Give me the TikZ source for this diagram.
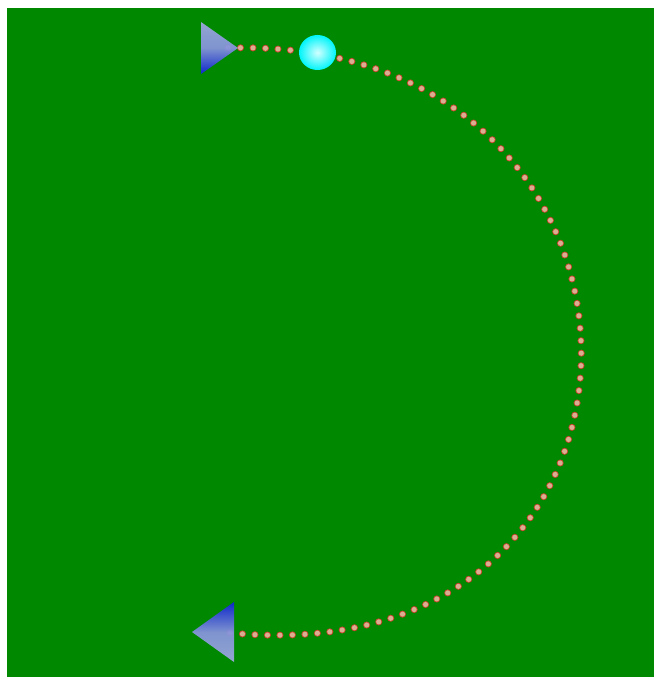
\documentclass[tikz,border=0pt]{standalone}
\usetikzlibrary{shapes.geometric}
\definecolor{bggreen}{RGB}{0,137,0}
\definecolor{dotred}{RGB}{205,65,45}
\definecolor{dotlight}{RGB}{218,175,145}
\definecolor{conelight}{RGB}{155,168,220}
\definecolor{conedark}{RGB}{15,35,215}
\definecolor{balllight}{RGB}{210,255,255}
\definecolor{ballcyan}{RGB}{0,245,250}
\tikzset{
  dotline/.style={line width=7pt, line cap=round, dash pattern=on 0pt off 12.5pt, draw=dotred},
  dotcore/.style={line width=5.2pt, line cap=round, dash pattern=on 0pt off 12.5pt, draw=dotlight},
  cone/.style={opacity=0.95},
}
\begin{document}
\begin{tikzpicture}[x=1pt,y=-1pt]
\useasboundingbox (0,0) rectangle (654,677);
\fill[white] (0,0) rectangle (654,677);
\fill[bggreen] (7,8) rectangle (654,677);
\coordinate (s) at (228,48);
\coordinate (e) at (222,632);
\draw[dotline] (s) .. controls (700,34) and (700,686) .. (e);
\draw[dotcore] (s) .. controls (700,34) and (700,686) .. (e);
% ball
\shade[inner color=balllight, outer color=ballcyan] (317.5,52.5) ellipse [x radius=18.5, y radius=17.5];
\node[minimum size=0pt, inner sep=0pt] (ball) at (317.5,52.5) {};
% top cone pointing right
\shade[cone, top color=conelight, bottom color=conedark, middle color=conelight!85!conedark] (201,22) -- (238,48) -- (201,74) -- cycle;
\coordinate (topcone) at (238,48);
% bottom cone pointing left
\shade[cone, top color=conedark, bottom color=conelight, middle color=conelight!85!conedark] (234,602) -- (192,632) -- (234,662) -- cycle;
\coordinate (botcone) at (192,632);
\end{tikzpicture}
\end{document}
